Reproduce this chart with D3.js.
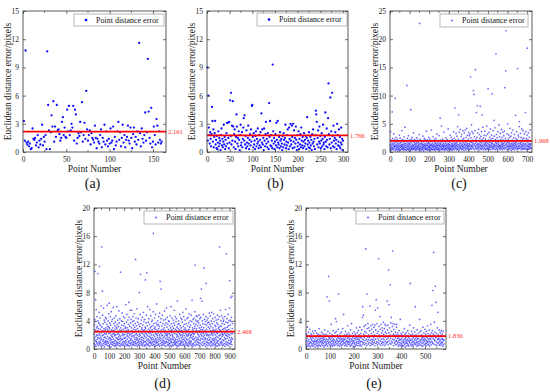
<!DOCTYPE html>
<html>
<head>
<meta charset="utf-8">
<script src="https://cdn.jsdelivr.net/npm/d3@7"></script>
<style>
  html, body { margin: 0; padding: 0; background: #fff; }
  svg { display: block; font-family: "Liberation Serif", "DejaVu Serif", serif; }
</style>
</head>
<body>
<div id="chart"></div>
<script>
// ---------------------------------------------------------------------------
// Point distance error — five scatter panels with mean line
// ---------------------------------------------------------------------------

const legendLabel = 'Point distance error';
const xTitle = 'Point Number';
const yTitle = 'Euclidean distance error/pixels';

const meanA = 2.161, meanB = 1.766, meanC = 1.968, meanD = 2.468, meanE = 1.836;

const xTicksA = [0, 50, 100, 150];
const xTicksB = [0, 50, 100, 150, 200, 250, 300];
const xTicksC = [0, 100, 200, 300, 400, 500, 600, 700];
const xTicksD = [0, 100, 200, 300, 400, 500, 600, 700, 800, 900];
const xTicksE = [0, 100, 200, 300, 400, 500];
const yTicksAB = [0, 3, 6, 9, 12, 15];
const yTicksC = [0, 5, 10, 15, 20, 25];
const yTicksDE = [0, 4, 8, 12, 16, 20];

const errA = [
  3.3,1.2,10.8,1.0,0.8,1.1,0.6,0.9,0.3,0.4, 2.5,1.4,1.3,1.5,0.7,1.0,1.8,0.5,1.2,0.8,
  1.4,2.9,0.7,1.6,1.1,1.8,0.3,10.7,5.0,2.3, 0.3,2.1,3.9,2.7,5.4,1.1,2.7,1.6,5.0,2.3,
  2.4,1.9,1.2,1.5,3.2,3.7,1.8,2.6,1.6,1.5, 4.5,2.2,4.9,1.8,2.3,3.0,2.6,4.9,1.2,4.5,
  4.0,0.9,1.5,2.0,1.7,3.2,2.1,5.3,1.1,1.8, 3.1,1.4,6.5,2.4,1.2,1.8,2.3,0.8,2.0,1.5,
  1.3,1.0,2.8,1.5,0.4,1.4,1.1,0.9,1.8,2.4, 0.5,1.5,1.1,2.9,0.8,2.2,1.2,0.6,1.4,0.9,
  2.5,1.0,1.2,2.7,0.3,1.6,0.7,1.1,2.2,3.2, 1.3,2.1,0.6,1.5,2.9,1.0,1.8,0.5,1.3,1.6,
  2.8,1.2,0.9,2.6,1.5,0.4,1.9,2.6,1.1,1.6, 0.8,2.2,1.3,11.6,2.0,0.6,2.5,1.4,1.0,1.8,
  4.2,1.2,2.1,9.9,4.3,1.5,0.9,4.7,0.5,1.1, 2.7,1.8,0.8,3.5,2.8,1.0,2.2,1.3,0.9,1.1
];

const errB = [
  9.0,1.2,6.0,2.6,1.8,0.9,2.1,1.4,0.6,1.9,4.8,3.3,1.1,2.4,0.5,1.6,2.0,3.3,0.8,1.3,
  0.4,1.7,0.3,1.0,2.2,0.6,1.5,0.9,1.2,0.2,1.8,2.5,0.7,1.4,0.5,1.1,2.9,0.8,1.6,0.3,
  1.3,0.6,2.0,3.1,0.9,3.1,1.5,0.4,3.2,1.0,5.5,1.7,6.3,0.8,2.8,1.2,5.4,2.7,0.5,1.9,
  2.4,1.1,0.3,1.6,4.0,2.7,0.9,1.5,0.6,2.2,1.3,0.2,1.8,2.9,0.7,1.0,2.1,0.5,1.4,2.6,
  3.6,1.2,3.9,0.8,1.7,0.4,2.3,1.0,0.6,1.5,2.8,0.9,0.3,1.3,1.9,0.7,2.4,1.1,4.9,5.0,
  1.6,0.5,2.0,0.8,1.2,0.3,1.7,2.2,0.6,1.4,0.9,2.5,1.1,0.4,1.8,0.7,1.3,2.1,0.5,4.1,
  1.0,2.4,0.8,1.5,0.2,2.5,1.2,0.6,1.9,3.2,0.9,1.4,0.5,2.0,1.1,0.3,5.2,1.6,3.3,0.7,
  1.8,0.6,1.2,0.4,9.3,2.2,0.9,1.5,0.3,1.1,1.9,0.7,3.1,1.3,0.5,3.3,1.0,0.8,1.6,0.4,
  2.1,1.2,0.6,1.4,0.9,0.2,1.7,0.5,2.0,1.3,0.8,1.5,2.9,0.4,1.1,0.7,1.8,2.4,1.0,0.3,
  2.6,1.4,0.6,3.0,1.2,0.8,2.8,1.6,0.4,3.0,1.1,2.3,0.5,1.5,0.9,2.7,1.3,0.2,1.8,0.6,
  1.0,2.2,0.3,1.4,0.8,1.9,0.5,2.6,1.2,0.7,1.6,0.4,1.1,2.0,0.6,1.3,0.9,1.7,0.3,1.5,
  3.7,0.8,1.2,0.5,2.1,1.0,0.4,1.6,0.7,1.3,0.2,1.9,0.9,2.4,1.1,0.6,1.4,0.3,1.8,4.4,
  4.0,3.2,0.8,1.5,2.3,0.5,1.1,2.7,0.9,1.7,0.4,1.2,2.0,0.6,1.4,2.9,0.8,1.0,0.3,1.6,
  4.2,1.1,0.6,2.5,1.3,0.5,3.6,7.3,1.9,0.8,1.4,5.8,0.4,2.2,1.0,6.3,1.7,0.6,2.8,1.2,
  0.5,1.5,2.1,0.9,1.3,0.3,3.0,1.8,0.7,1.1,2.4,0.6,1.6,0.4,1.0,2.6,0.8,1.4,0.2,1.2
];

const errC = [
  1.2,0.6,3.6,1.8,0.9,0.3,2.1,1.4,0.7,1.1,7.1,0.5,1.6,2.4,0.8,1.3,0.4,1.9,3.2,1.0,
  0.6,1.5,2.2,0.9,1.2,9.5,0.3,1.7,1.0,2.6,0.5,1.3,0.8,1.9,0.4,1.1,2.3,0.7,1.5,0.2,
  1.8,0.9,1.2,0.5,2.0,1.4,0.6,3.0,1.0,0.3,1.6,2.5,0.8,1.2,0.4,1.7,0.9,2.1,1.3,0.6,
  3.8,1.1,0.5,1.4,0.8,2.2,1.0,0.3,1.8,0.7,1.3,2.7,0.5,1.6,0.9,4.4,1.2,0.4,2.0,1.5,
  0.8,1.1,0.3,1.9,0.6,11.8,1.4,2.4,0.9,0.5,1.2,1.7,0.4,2.9,1.0,0.7,1.5,0.2,1.3,2.1,
  0.6,1.4,0.9,1.8,0.3,7.5,1.1,2.3,0.7,1.6,0.5,1.0,2.6,0.8,1.3,0.4,1.9,1.2,0.6,3.4,
  1.0,0.5,1.7,0.8,2.2,1.3,0.4,1.5,0.9,2.0,0.6,1.1,0.3,1.8,1.4,0.7,2.5,1.0,0.5,1.6,
  0.9,2.1,1.2,0.4,1.7,0.8,1.3,0.6,3.1,1.0,22.8,0.5,1.5,2.3,0.7,1.1,0.3,1.9,1.4,0.8,
  1.6,0.4,2.0,1.1,0.7,1.4,0.5,2.8,0.9,1.3,0.2,1.8,1.0,0.6,2.4,1.2,0.8,1.5,0.4,1.1,
  2.2,0.7,1.3,0.5,1.9,3.7,1.0,0.6,1.6,0.3,1.2,2.1,0.8,1.4,0.5,1.7,0.9,2.6,1.1,0.4,
  1.5,0.8,1.0,2.3,0.6,1.3,0.3,1.8,1.1,0.7,3.9,1.4,0.5,1.2,2.0,0.9,0.4,1.6,1.0,2.7,
  0.5,1.3,0.8,1.9,1.2,0.4,2.2,1.0,0.6,1.5,0.3,1.7,0.9,2.4,1.1,0.7,1.4,0.5,3.2,1.2,
  0.8,1.6,0.4,1.1,2.0,0.7,1.3,0.5,1.8,2.9,1.0,0.6,1.5,0.3,1.2,6.0,0.9,2.1,1.4,0.5,
  1.7,0.8,4.6,1.1,0.4,1.9,1.3,0.6,2.3,1.0,0.5,1.6,0.9,1.2,3.5,0.7,1.4,0.3,2.0,1.1,
  0.6,1.8,1.0,0.4,1.5,2.5,0.8,1.2,0.5,1.9,1.3,0.7,2.2,1.0,0.3,1.6,4.1,0.9,1.4,0.6,
  1.1,2.0,0.5,1.3,0.8,1.7,3.0,0.6,1.2,0.4,1.9,1.0,2.6,0.7,1.5,0.3,1.1,2.2,0.9,1.4,
  0.5,1.8,1.2,3.6,0.7,1.0,2.4,0.4,1.6,1.3,7.8,0.8,2.1,1.1,0.6,1.5,3.3,0.9,1.7,0.4,
  1.2,2.8,0.6,1.4,4.5,1.0,0.5,1.9,2.3,0.8,6.6,1.3,0.4,3.5,1.1,1.6,0.7,2.0,4.0,0.9,
  1.5,0.6,2.7,1.2,0.4,3.1,1.8,0.9,1.3,2.2,0.5,1.0,3.8,1.6,0.7,2.4,1.1,0.3,3.4,1.4,
  0.8,2.0,1.3,3.9,0.6,1.7,1.0,2.6,0.4,1.2,4.2,1.9,0.7,1.5,3.0,0.9,1.3,0.5,2.3,1.1,
  3.5,0.7,1.6,1.0,2.9,0.4,1.4,3.2,1.2,0.6,13.3,1.8,2.5,0.9,1.1,4.8,0.5,1.7,3.6,1.3,
  0.8,2.1,1.0,3.3,1.5,10.9,0.6,1.9,10.2,1.2,2.7,0.4,1.4,3.8,0.9,14.6,1.6,2.3,0.7,1.1,
  7.0,1.8,0.5,2.6,1.3,8.2,0.9,3.4,1.5,0.6,1.2,4.0,2.0,0.8,1.4,3.1,1.0,0.4,2.4,1.7,
  8.1,0.7,1.3,2.8,1.1,0.5,3.6,1.6,0.9,2.2,6.6,1.2,0.6,4.4,1.8,1.0,2.5,0.4,1.4,3.0,
  0.8,1.9,1.2,3.7,0.6,1.5,2.3,1.0,0.4,1.7,2.9,1.3,0.7,4.6,1.1,2.0,0.5,1.6,3.2,0.9,
  11.2,1.4,0.6,2.1,1.0,3.5,1.8,0.5,1.3,2.6,0.8,1.1,4.1,1.7,0.4,2.3,1.2,0.9,3.0,1.5,
  10.3,0.7,1.6,2.4,1.0,0.5,3.8,1.3,0.8,1.9,5.6,1.1,2.8,0.6,1.4,4.3,1.0,2.2,0.4,1.7,
  17.4,1.2,0.8,3.1,1.5,0.6,2.5,1.0,1.8,0.4,3.6,1.3,2.0,0.9,1.6,4.8,0.7,1.2,2.7,1.0,
  0.5,1.9,3.3,1.1,0.8,2.2,1.4,0.6,4.0,1.7,1.0,2.6,0.4,1.3,3.5,0.9,1.5,2.1,0.7,1.2,
  2.9,1.6,0.5,3.7,1.1,11.4,1.8,0.8,2.4,1.3,14.4,0.6,21.5,1.5,2.0,0.9,3.2,1.2,0.4,1.7,
  5.0,1.0,2.3,0.7,1.4,3.0,1.8,0.5,1.1,2.6,0.9,1.5,4.2,1.2,0.6,1.9,2.8,1.0,0.3,1.4,
  3.4,0.8,1.6,2.1,1.1,0.5,3.9,1.3,0.7,1.8,2.5,1.0,0.4,1.5,3.1,1.2,0.8,2.0,1.6,0.6,
  6.5,1.3,2.4,0.9,1.7,3.6,1.0,0.5,2.2,1.4,14.8,0.7,1.9,3.0,1.1,0.6,2.7,1.5,0.9,4.5,
  5.4,1.2,0.6,2.0,1.6,3.3,0.8,1.4,2.6,1.0,0.4,1.8,4.1,1.3,0.7,2.3,1.1,0.5,3.8,1.6,
  1.0,2.5,0.6,1.4,3.2,1.9,0.8,1.2,2.1,0.5,7.0,1.5,3.6,1.0,0.7,2.4,1.3,0.4,1.8,3.0,
  18.4,1.1,0.6,2.2,1.6,0.9,3.4,1.3,0.5,1.9,2.6,1.0,0.7,1.5,3.9,1.2,0.8,2.0,1.4,0.6
];

const errD = [
  2.1,0.8,3.4,1.5,4.2,11.0,0.6,2.7,1.2,3.9,7.0,1.8,0.4,2.4,5.6,1.1,3.0,0.9,2.0,4.6,
  1.4,3.2,0.7,2.6,1.9,10.7,4.0,0.5,1.6,2.9,3.7,1.0,5.2,2.2,0.8,11.7,1.5,3.5,2.0,0.6,
  4.4,1.2,2.8,0.9,3.3,1.7,6.1,0.4,2.3,1.4,14.5,3.1,0.7,2.5,1.9,8.2,4.8,1.1,2.6,0.5,
  3.6,1.3,2.0,5.8,0.8,2.9,1.6,4.1,0.3,2.2,1.0,3.8,1.7,0.6,2.7,4.5,1.2,3.0,0.9,2.1,
  1.5,4.3,0.7,2.4,3.5,1.1,6.2,2.8,0.5,1.8,3.2,1.0,2.6,4.0,0.8,1.4,5.0,2.2,0.4,3.1,
  6.5,1.6,2.9,0.6,3.7,1.2,2.3,4.6,0.9,1.5,3.4,0.3,2.0,5.3,1.3,2.7,0.7,3.9,1.8,1.0,
  2.5,4.2,0.6,1.7,3.0,2.1,0.9,5.9,1.4,2.6,0.5,3.6,1.1,2.2,4.4,0.8,1.9,3.3,0.4,2.8,
  1.2,3.8,2.0,0.7,4.7,1.6,2.4,0.5,3.1,1.0,2.9,6.0,0.8,1.5,3.5,2.1,0.6,4.1,1.3,2.5,
  0.9,3.2,1.7,2.3,5.4,0.5,1.4,3.7,2.0,0.8,2.7,4.3,1.1,1.8,0.4,10.9,3.0,1.5,2.4,0.7,
  4.0,1.3,2.6,0.6,3.4,1.9,5.1,0.9,2.2,1.4,3.9,0.5,2.8,1.1,4.6,2.0,0.7,3.3,1.6,2.5,
  1.0,3.6,0.4,2.1,4.4,1.5,2.9,0.8,3.1,1.2,6.3,2.4,0.6,1.7,3.8,1.0,2.6,4.9,0.5,2.0,
  3.0,1.4,2.3,0.7,4.1,1.8,0.5,2.7,3.5,1.1,6.6,0.9,2.2,4.5,1.6,0.4,3.2,2.0,1.2,5.5,
  0.8,2.5,3.7,1.3,0.6,4.2,2.1,1.5,3.0,0.9,5.5,1.8,2.6,0.5,3.9,1.2,2.3,4.6,0.7,1.9,
  3.4,1.0,2.8,0.6,4.0,1.7,2.4,5.0,0.9,3.1,1.4,2.0,0.5,3.6,1.1,12.7,2.7,0.8,4.4,1.6,
  2.2,0.7,3.3,1.3,5.7,2.0,0.4,2.9,1.5,3.8,0.9,2.4,1.2,4.3,0.6,2.6,3.5,1.0,1.8,0.5,
  8.0,2.1,1.4,3.2,0.8,4.9,1.9,2.5,10.6,1.1,3.6,0.6,2.3,1.6,4.1,0.9,2.8,1.3,3.0,0.5,
  1.7,4.5,2.2,0.7,3.4,1.2,2.6,5.2,0.9,1.5,3.9,2.0,0.4,2.7,1.1,4.2,1.8,0.6,3.1,2.3,
  9.8,1.0,2.9,0.5,3.7,1.6,4.8,2.1,0.8,1.3,10.8,2.5,0.6,3.3,1.9,6.0,1.1,2.4,0.7,3.8,
  1.4,2.8,0.5,4.3,1.8,2.2,0.9,3.5,1.2,5.6,2.6,0.4,1.7,3.0,1.0,2.3,4.7,0.8,1.5,3.2,
  2.0,0.6,3.9,1.3,2.7,0.9,4.1,1.6,2.4,0.5,3.3,1.1,5.3,16.4,2.0,0.7,3.6,1.4,2.9,1.0,
  4.4,1.8,0.6,2.5,3.1,1.2,0.4,2.2,4.9,1.5,2.8,0.8,3.7,1.0,2.1,6.4,1.3,0.5,3.4,1.9,
  2.6,0.9,4.0,1.6,2.3,0.6,3.5,1.1,2.9,4.6,0.7,1.4,3.2,2.0,0.4,5.1,1.7,2.5,9.6,1.2,
  3.8,0.8,2.2,1.5,4.3,8.5,0.5,2.7,1.9,3.3,1.0,2.4,0.6,4.8,1.3,2.0,3.6,0.9,1.6,2.8,
  0.7,4.1,1.2,2.5,3.0,0.5,1.8,5.4,2.3,1.0,3.4,0.8,2.6,1.5,4.2,0.4,2.1,3.7,1.1,1.9,
  5.8,2.4,0.9,3.1,1.4,2.0,4.5,0.6,1.7,3.5,2.2,1.0,0.5,2.8,4.0,1.3,2.5,0.7,3.9,1.6,
  2.1,0.8,3.3,1.2,4.7,2.6,0.5,1.9,3.0,1.4,6.0,0.9,2.3,1.1,3.6,0.4,2.7,4.4,1.5,2.0,
  0.6,3.2,1.8,2.4,0.9,4.1,1.3,2.9,0.5,3.7,1.6,2.2,5.5,1.0,0.7,3.4,2.5,1.2,4.6,0.8,
  2.8,1.4,0.6,3.9,2.1,1.0,4.3,0.5,2.6,1.7,3.1,0.9,2.0,6.8,1.3,2.4,0.4,3.5,1.8,2.9,
  1.1,4.0,0.7,2.3,3.6,1.5,0.5,2.7,4.9,1.2,2.1,0.8,3.3,1.9,0.6,4.4,2.5,1.0,3.0,1.6,
  0.9,2.6,4.2,1.3,2.0,0.5,3.8,1.7,2.4,5.2,1.0,0.7,3.2,2.2,1.4,4.6,0.6,2.8,1.9,3.5,
  1.2,0.4,2.5,4.1,1.6,3.0,0.8,2.2,1.1,5.7,2.7,0.6,3.6,1.4,2.0,0.9,4.3,1.8,2.4,0.5,
  3.3,1.3,2.6,0.7,4.5,1.9,2.1,0.4,3.7,1.0,2.8,5.0,1.5,0.8,3.1,2.3,1.2,4.0,0.6,2.0,
  1.7,3.4,0.9,2.5,4.8,1.1,2.0,0.5,3.9,1.6,6.9,2.3,0.7,3.0,1.4,2.7,0.4,4.2,1.8,2.2,
  0.8,3.6,1.3,4.4,2.1,0.6,2.9,1.5,5.3,3.2,11.9,1.0,2.4,4.1,0.5,3.5,1.7,2.6,4.7,1.2,
  2.9,0.7,3.9,1.4,4.6,2.2,1.0,3.3,0.6,2.5,4.0,1.6,2.0,3.7,0.9,1.3,4.8,2.4,0.5,3.0,
  1.8,4.3,2.6,0.8,3.4,1.2,2.1,7.2,4.5,1.5,2.8,0.6,8.5,3.1,1.9,2.3,6.8,0.9,4.0,1.4,
  2.7,0.5,3.6,1.8,2.2,4.9,1.1,3.0,0.7,2.4,11.5,1.6,4.2,2.0,0.8,3.5,1.3,2.6,0.4,3.9,
  1.5,2.3,4.6,9.3,1.0,2.8,0.6,3.4,1.9,2.1,4.1,0.9,1.4,3.7,2.5,0.5,4.4,1.2,2.0,3.1,
  0.8,3.8,1.7,2.4,5.1,0.6,2.9,1.3,3.5,2.0,0.9,4.7,1.6,2.6,0.4,3.2,1.1,4.0,2.3,1.0,
  5.2,2.1,0.7,3.6,1.4,2.5,0.5,4.3,1.9,3.0,1.2,2.7,0.8,5.0,2.2,1.5,3.9,0.6,2.4,1.3,
  3.4,1.0,2.6,4.5,0.7,2.0,1.6,3.2,0.5,2.8,4.1,1.3,2.3,0.9,3.7,1.8,2.5,0.4,4.8,1.1,
  2.2,3.5,0.8,1.6,4.2,2.9,1.2,3.1,0.6,2.4,1.9,4.6,0.5,14.5,2.7,1.4,3.3,2.0,0.9,5.5,
  1.5,2.6,4.0,0.7,3.2,1.1,2.3,4.7,0.9,1.8,3.6,2.1,0.5,2.8,4.4,1.3,2.0,3.9,0.6,2.5,
  4.1,1.2,2.9,0.8,3.5,2.2,1.6,4.6,0.4,2.4,3.0,1.4,5.6,2.0,0.7,3.8,1.0,2.7,13.5,1.9,
  2.3,4.3,0.6,3.1,1.5,2.6,0.9,3.7,1.8,4.9,2.1,0.5,3.3,1.2,2.8,4.0,0.8,2.4,5.8,1.6,
  9.7,2.0,3.4,0.7,4.1,1.3,2.5,7.3,0.9,3.9,1.1,2.2,4.5,1.6,0.6,7.5,2.9,1.4,3.6,2.2
];

const errE = [
  1.2,0.6,2.1,0.9,1.5,3.1,0.4,1.8,1.1,0.7,2.4,1.3,0.5,1.9,0.8,2.8,1.0,0.3,1.6,2.2,
  0.9,1.4,0.5,2.0,1.2,0.7,1.7,2.5,0.4,1.1,1.5,0.8,2.2,1.0,0.6,1.8,1.3,0.3,2.6,1.1,
  0.7,1.6,1.0,2.3,0.5,1.2,1.9,0.8,1.4,0.4,2.1,1.1,0.6,1.7,2.9,0.9,1.3,0.5,2.0,1.5,
  1.0,0.4,1.8,1.2,2.4,0.7,1.5,0.9,1.1,2.2,0.5,1.6,1.3,0.8,2.0,0.3,1.4,1.0,2.7,0.6,
  1.7,1.2,0.5,2.1,0.9,1.4,0.7,7.4,1.9,1.1,0.4,2.5,1.3,0.8,10.3,1.6,1.0,6.8,0.6,1.5,
  2.2,0.9,1.3,0.5,1.8,3.5,1.1,0.7,1.6,2.0,0.4,1.2,0.8,2.6,1.4,1.0,0.6,1.9,1.3,0.5,
  1.7,2.3,0.9,4.3,1.1,0.6,2.5,3.9,1.4,0.8,1.2,2.0,0.5,1.6,1.0,2.8,7.8,0.7,1.5,1.1,
  0.4,1.9,1.3,2.2,0.8,1.6,0.6,1.0,2.4,1.4,0.5,1.8,1.2,2.9,0.7,1.1,1.5,4.9,0.9,1.3,
  2.0,0.5,1.4,0.8,1.7,2.5,1.0,0.6,1.9,1.2,0.4,2.1,1.5,0.9,3.3,1.1,0.7,1.6,2.3,1.0,
  0.6,1.3,2.0,0.9,1.5,0.4,2.7,1.1,1.8,0.7,3.6,1.4,0.5,1.2,2.2,0.8,1.6,1.0,0.3,1.9,
  1.2,2.4,0.7,1.5,0.9,1.8,0.4,2.1,1.3,0.6,1.6,3.0,1.0,0.8,2.3,1.4,0.5,1.7,1.1,2.6,
  0.8,1.4,2.0,0.5,1.2,3.1,0.9,1.6,0.6,2.2,1.1,1.8,0.4,2.7,1.5,1.0,4.5,6.0,0.7,1.3,
  4.8,2.1,0.9,3.2,1.6,0.6,2.5,1.2,1.9,3.4,14.2,0.8,2.3,1.4,0.5,7.8,2.9,1.1,1.7,3.6,
  0.7,2.0,1.3,3.0,0.9,1.6,2.6,6.1,0.5,1.8,1.2,3.3,0.8,2.2,1.4,0.6,2.8,1.0,1.9,3.5,
  1.3,0.7,2.4,1.6,3.1,0.9,1.2,2.0,0.5,3.4,5.5,1.4,2.7,0.8,7.0,1.8,1.0,3.6,2.2,0.6,
  5.8,1.5,2.5,0.9,12.8,1.2,3.2,2.0,0.7,1.7,4.6,2.8,1.1,0.5,3.5,1.4,2.3,0.8,1.9,3.0,
  1.0,2.6,0.6,1.5,3.8,2.1,0.9,1.3,2.9,0.5,3.5,1.7,2.4,1.1,0.7,3.3,1.8,2.2,0.9,1.4,
  6.8,2.7,1.0,3.4,1.6,0.6,11.2,2.3,6.3,1.2,3.0,0.8,2.0,9.1,1.5,3.7,0.7,4.5,2.5,1.1,
  1.8,0.9,3.2,13.9,1.4,3.6,2.1,0.5,2.8,1.3,1.9,0.8,3.5,1.0,2.4,1.6,0.6,2.0,1.2,3.1,
  3.5,1.1,0.7,2.3,1.5,0.9,2.0,0.4,1.7,1.2,2.6,0.6,1.4,0.9,1.9,4.2,0.5,1.3,2.2,0.8,
  1.5,0.6,2.0,1.1,0.4,1.7,2.4,0.9,1.3,0.5,1.8,1.0,2.9,0.7,1.4,2.1,0.3,1.6,1.2,0.8,
  2.3,1.0,0.5,1.9,1.4,0.8,2.6,1.2,0.6,1.7,0.4,2.2,1.1,1.5,0.9,3.4,1.3,9.3,0.7,2.0,
  1.2,0.5,1.8,2.5,0.9,1.4,0.6,2.1,1.1,0.4,1.6,3.0,1.0,0.7,1.9,1.3,2.4,0.8,6.0,1.5,
  0.6,2.0,1.2,0.9,1.7,0.4,2.7,1.4,1.0,0.7,2.2,1.5,0.5,1.8,1.1,0.8,4.2,2.4,1.3,0.6,
  1.9,1.0,2.6,0.5,1.4,2.0,0.8,1.6,1.2,0.4,3.1,1.7,0.9,1.3,2.3,0.6,1.5,1.1,2.8,0.7,
  1.3,2.1,0.8,1.7,0.5,2.5,1.2,0.9,1.6,3.3,1.0,0.6,2.2,1.4,0.7,1.9,1.1,2.7,0.4,1.5,
  2.0,0.9,1.4,3.5,1.1,0.6,2.3,1.7,6.2,1.0,2.6,0.8,8.3,1.5,2.1,13.7,0.7,1.3,3.8,1.9,
  1.2,2.4,8.9,0.6,1.6,6.6,1.0,2.2,0.5,1.8,3.0,1.3,0.8,5.2,1.5,2.0,0.9,1.4,2.7,0.6,
  1.1,1.7,0.5,2.3,1.3,0.8,1.9,2.6,1.0,0.6,1.5,2.1,0.9,1.4,0.4,2.5,1.2,1.8,0.7,1.3
];

// panel layout (pixel box of each plot area, and axis domains)
const panels = [
  { tag: '(a)', data: errA, mean: meanA, xTicks: xTicksA, yTicks: yTicksAB, xMax: 165, yMax: 15,
    left: 23, top: 11, w: 143, h: 141, tagY: 188, bold: true,
    legend: { x: 74, y: 14, w: 90, h: 12 } },
  { tag: '(b)', data: errB, mean: meanB, xTicks: xTicksB, yTicks: yTicksAB, xMax: 311, yMax: 15,
    left: 207, top: 11, w: 141, h: 141, tagY: 188, bold: true,
    legend: { x: 257, y: 13, w: 90, h: 13 } },
  { tag: '(c)', data: errC, mean: meanC, xTicks: xTicksC, yTicks: yTicksC, xMax: 725, yMax: 25,
    left: 390, top: 11, w: 142, h: 141, tagY: 188, bold: false,
    legend: { x: 440, y: 14, w: 88, h: 13 } },
  { tag: '(d)', data: errD, mean: meanD, xTicks: xTicksD, yTicks: yTicksDE, xMax: 936, yMax: 20,
    left: 94, top: 208, w: 141, h: 141, tagY: 388, bold: false,
    legend: { x: 144, y: 211, w: 89, h: 13 } },
  { tag: '(e)', data: errE, mean: meanE, xTicks: xTicksE, yTicks: yTicksDE, xMax: 588, yMax: 20,
    left: 306, top: 208, w: 140, h: 141, tagY: 388, bold: false,
    legend: { x: 356, y: 211, w: 88, h: 13 } }
];

const W = 550, H = 392;
const svg = d3.select('#chart').append('svg')
  .attr('width', W).attr('height', H)
  .attr('viewBox', `0 0 ${W} ${H}`);

panels.forEach((p) => {
  const x = d3.scaleLinear().domain([0, p.xMax]).range([0, p.w]);
  const y = d3.scaleLinear().domain([0, p.yMax]).range([p.h, 0]);
  const g = svg.append('g').attr('transform', `translate(${p.left},${p.top})`);

  // scatter points
  const r = p.bold ? 1.15 : 0.85;
  g.append('g').selectAll('circle')
    .data(p.data)
    .join('circle')
    .attr('cx', (d, i) => x(i + 1))
    .attr('cy', (d) => y(d))
    .attr('r', r)
    .attr('fill', '#0000ff')
    .attr('fill-opacity', p.bold ? 0.95 : 0.6);

  // mean line
  g.append('line')
    .attr('x1', 0).attr('x2', p.w)
    .attr('y1', y(p.mean)).attr('y2', y(p.mean))
    .attr('stroke', '#ff0000')
    .attr('stroke-width', 1.8);
  g.append('text')
    .attr('x', p.w + 2).attr('y', y(p.mean) + 2.3)
    .attr('fill', '#ff2a2a')
    .style('font-size', '6.5px')
    .text(p.mean.toFixed(3));

  // frame with inward ticks on every side
  const axB = d3.axisBottom(x).tickValues(p.xTicks).tickSize(-3).tickPadding(5).tickFormat(d3.format('d'));
  const axT = d3.axisTop(x).tickValues(p.xTicks).tickSize(-3).tickFormat('');
  const axL = d3.axisLeft(y).tickValues(p.yTicks).tickSize(-3).tickPadding(4).tickFormat(d3.format('d'));
  const axR = d3.axisRight(y).tickValues(p.yTicks).tickSize(-3).tickFormat('');

  const styleAxis = (sel) => {
    sel.select('.domain').remove();
    sel.selectAll('line').attr('stroke', '#333').attr('stroke-width', 0.7);
    sel.selectAll('text').style('font-family', '"Liberation Serif", serif').style('font-size', '7.5px').attr('fill', '#222');
  };
  g.append('g').attr('transform', `translate(0,${p.h})`).call(axB).call(styleAxis);
  g.append('g').call(axT).call(styleAxis);
  g.append('g').call(axL).call(styleAxis);
  g.append('g').attr('transform', `translate(${p.w},0)`).call(axR).call(styleAxis);

  // minor ticks at half steps along top and bottom
  const xStep = p.xTicks[1] - p.xTicks[0];
  const minors = d3.range(xStep / 2, p.xMax, xStep);
  g.append('g').selectAll('line.mb').data(minors).join('line')
    .attr('x1', (d) => x(d)).attr('x2', (d) => x(d))
    .attr('y1', p.h).attr('y2', p.h - 2)
    .attr('stroke', '#333').attr('stroke-width', 0.6);
  g.append('g').selectAll('line.mt').data(minors).join('line')
    .attr('x1', (d) => x(d)).attr('x2', (d) => x(d))
    .attr('y1', 0).attr('y2', 2)
    .attr('stroke', '#333').attr('stroke-width', 0.6);

  g.append('rect')
    .attr('width', p.w).attr('height', p.h)
    .attr('fill', 'none').attr('stroke', '#333').attr('stroke-width', 0.8);

  // legend
  const lg = svg.append('g').attr('transform', `translate(${p.legend.x},${p.legend.y})`);
  lg.append('rect')
    .attr('width', p.legend.w).attr('height', p.legend.h)
    .attr('fill', '#fff').attr('stroke', '#888').attr('stroke-width', 0.6);
  lg.append('circle')
    .attr('cx', 12).attr('cy', p.legend.h / 2).attr('r', p.bold ? 1.3 : 1)
    .attr('fill', '#0000ff').attr('fill-opacity', p.bold ? 1 : 0.6);
  lg.append('text')
    .attr('x', 22).attr('y', p.legend.h / 2 + 2.8)
    .style('font-size', '8px').attr('fill', '#111')
    .text(legendLabel);

  // axis titles
  svg.append('text')
    .attr('x', p.left + p.w / 2).attr('y', p.top + p.h + 20)
    .attr('text-anchor', 'middle')
    .style('font-size', '9.5px').attr('fill', '#222')
    .text(xTitle);
  svg.append('text')
    .attr('transform', `translate(${p.left - 12},${p.top + p.h / 2}) rotate(-90)`)
    .attr('text-anchor', 'middle')
    .style('font-size', '9.5px').attr('fill', '#222')
    .text(yTitle);

  svg.append('text')
    .attr('x', p.left + p.w / 2 - 2).attr('y', p.tagY)
    .attr('text-anchor', 'middle')
    .style('font-size', '14px').attr('fill', '#111')
    .text(p.tag);
});
</script>
</body>
</html>
